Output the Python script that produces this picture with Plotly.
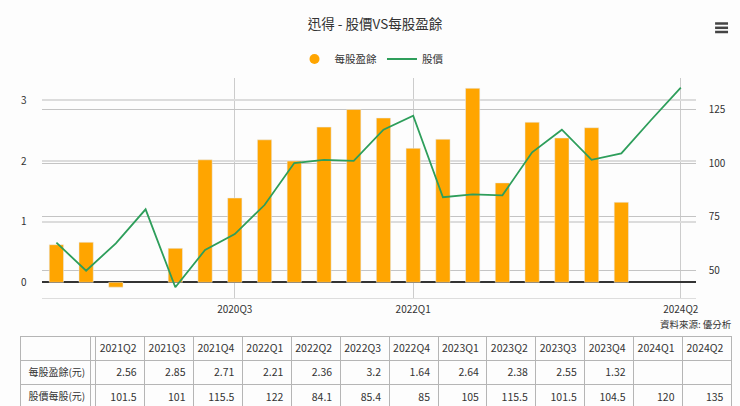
import plotly.graph_objects as go

W = 740
H = 406

quarters = ["2019Q1", "2019Q2", "2019Q3", "2019Q4", "2020Q1", "2020Q2", "2020Q3", "2020Q4",
            "2021Q1", "2021Q2", "2021Q3", "2021Q4", "2022Q1", "2022Q2", "2022Q3", "2022Q4",
            "2023Q1", "2023Q2", "2023Q3", "2023Q4", "2024Q1", "2024Q2"]
eps = [0.62, 0.66, -0.08, None, 0.56, 2.02, 1.39, 2.35, 2.0, 2.56, 2.85,
       2.71, 2.21, 2.36, 3.2, 1.64, 2.64, 2.38, 2.55, 1.32, None, None]
price = [63, 50, 62.7, 78.5, 42.3, 59.6, 67, 80.5, 100, 101.5, 101,
         115.5, 122, 84.1, 85.4, 85, 105, 115.5, 101.5, 104.5, 120, 135]
x_ticks = ["2020Q3", "2022Q1", "2024Q2"]
left_ticks = [0, 1, 2, 3]
right_ticks = [50, 75, 100, 125]

# the table only shows the last 13 quarters
first_col = 9
table_head = quarters[first_col:]
table_eps = ["" if v is None else str(v) for v in eps[first_col:]]
table_price = [str(v) for v in price[first_col:]]

text_color = "#333333"
font_name = "Noto Sans CJK TC"

fig = go.Figure()
fig.add_trace(go.Bar(x=quarters, y=eps, name="每股盈餘", marker_color="#FFA500",
                     width=0.48, showlegend=False, hoverinfo="skip"))
# circle in the legend, the bar trace would give a square
fig.add_trace(go.Scatter(x=[None], y=[None], mode="markers", name="每股盈餘",
                         marker=dict(color="#FFA500", size=10)))
fig.add_trace(go.Scatter(x=quarters, y=price, mode="lines", name="股價", yaxis="y2",
                         line=dict(color="#2E9E5B", width=1.8)))

columns = [["", "每股盈餘(元)", "股價每股(元)"], ["", "", ""]]
for q, e, p in zip(table_head, table_eps, table_price):
    columns.append([q, e, p])

fig.add_trace(go.Table(
    domain=dict(x=[20.5 / W, 735 / W], y=[0, 1 - 336 / H]),
    columnwidth=[70.5, 5] + [49.05] * len(table_head),
    header=dict(values=[""] * len(columns), height=0.1, line=dict(width=0), fill_color="rgba(0,0,0,0)",
                font=dict(size=1)),
    cells=dict(values=columns, height=24.4, align=["left", "left"] + ["right"] * len(table_head),
               line=dict(color="#b5b5b5", width=1), fill_color="#fdfdfd",
               font=dict(family=font_name, size=[10] + [10.5] * (len(columns) - 1), color=text_color)),
))

# menu icon, three bars
menu_shapes = [dict(type="line", xref="paper", yref="paper", x0=718 / W, x1=731 / W,
                    y0=1 - y / H, y1=1 - y / H, line=dict(color="#444444", width=2.5))
               for y in [23.5, 27.8, 32]]

fig.update_layout(
    width=W, height=H,
    margin=dict(l=0, r=0, t=0, b=0),
    paper_bgcolor="#fdfdfd",
    plot_bgcolor="#fdfdfd",
    font=dict(family=font_name, size=11, color=text_color),
    title=dict(text="迅得 - 股價VS每股盈餘", x=375 / W, xanchor="center", y=1 - 24 / H, yanchor="middle",
               font=dict(size=13.5, color=text_color)),
    legend=dict(orientation="h", x=373 / W, xanchor="center", y=1 - 59 / H, yanchor="middle",
                bgcolor="rgba(0,0,0,0)", font=dict(size=10.5), itemwidth=30),
    bargap=0.5,
    xaxis=dict(domain=[41.7 / W, 698.5 / W], type="category", categoryorder="array", categoryarray=quarters,
               range=[-0.5, 21.5], tickmode="array", tickvals=x_ticks, ticktext=x_ticks,
               showgrid=True, gridcolor="#cccccc", gridwidth=1, showline=True, linecolor="#dddddd",
               ticks="outside", ticklen=2, tickcolor="rgba(0,0,0,0)", tickangle=0,
               tickfont=dict(size=10)),
    yaxis=dict(domain=[1 - 297.7 / H, 1 - 78 / H], range=[-0.254, 3.37], tickvals=left_ticks,
               showgrid=True, gridcolor="#dcdcdc", gridwidth=1.5,
               zeroline=True, zerolinecolor="#333333", zerolinewidth=1.5,
               ticks="outside", ticklen=12, tickcolor="rgba(0,0,0,0)", tickfont=dict(size=10)),
    yaxis2=dict(overlaying="y", side="right", range=[37.45, 139.5], tickvals=right_ticks,
                showgrid=True, gridcolor="#c4c4c4", gridwidth=1, zeroline=False,
                ticks="outside", ticklen=10, tickcolor="rgba(0,0,0,0)", tickfont=dict(size=10)),
    shapes=menu_shapes,
    annotations=[
        dict(text="資料來源: 優分析", xref="paper", yref="paper", x=737 / W, y=1 - 323.5 / H,
             xanchor="right", yanchor="middle", showarrow=False, font=dict(size=9.5)),
    ],
)

# browser default body margin pushes the figure off the window
fig.write_html("out.html", config=dict(displayModeBar=False),
               post_script="document.body.style.margin='0';document.documentElement.style.overflow='hidden';")
